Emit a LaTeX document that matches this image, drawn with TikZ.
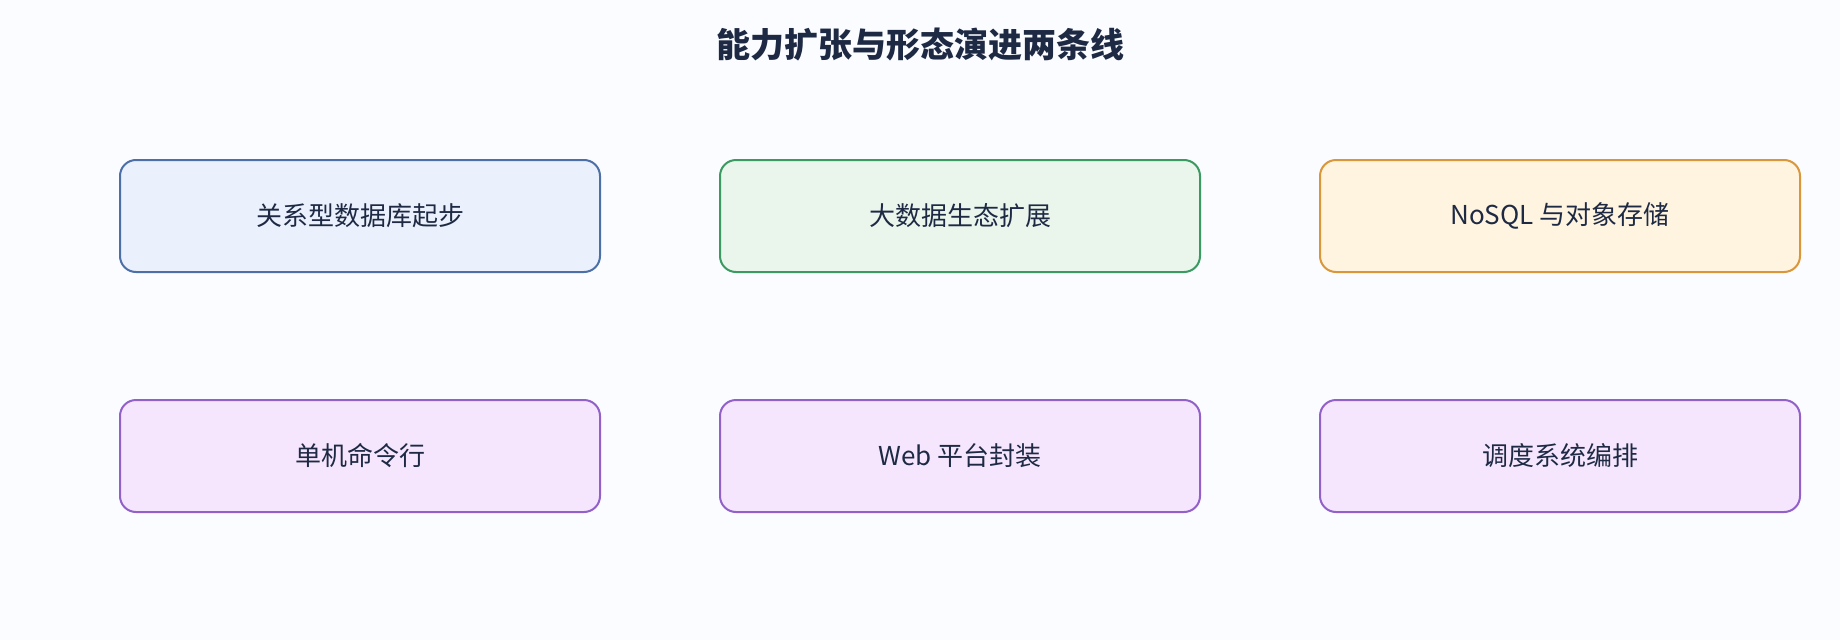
\documentclass[tikz,border=0pt]{standalone}
\usepackage{fontspec}
\setmainfont{Noto Sans CJK SC}
\usepackage{tikz}
\definecolor{bgc}{HTML}{FBFCFF}
\definecolor{ink}{HTML}{1E2A44}
\definecolor{relfill}{HTML}{EAF1FC}
\definecolor{reldraw}{HTML}{4C6FA8}
\definecolor{bigfill}{HTML}{EAF6EC}
\definecolor{bigdraw}{HTML}{3A9A62}
\definecolor{nosfill}{HTML}{FFF4E0}
\definecolor{nosdraw}{HTML}{D9973A}
\definecolor{formfill}{HTML}{F6E6FD}
\definecolor{formdraw}{HTML}{9160C8}

\begin{document}
\begin{tikzpicture}[x=1pt,y=-1pt,
  stage/.style={rounded corners=16pt,line width=2pt,minimum width=480pt,minimum height=112pt,inner sep=0pt,text=ink,font=\fontsize{26}{30}\selectfont},
  caprel/.style={stage,draw=reldraw,fill=relfill},
  capbig/.style={stage,draw=bigdraw,fill=bigfill},
  capnos/.style={stage,draw=nosdraw,fill=nosfill},
  form/.style={stage,draw=formdraw,fill=formfill}]
\fill[bgc] (0,0) rectangle (1840,640);
\useasboundingbox (0,0) rectangle (1840,640);
\node[text=ink,font=\fontsize{34}{40}\selectfont\bfseries] (T) at (920,45) {能力扩张与形态演进两条线};

% capability line
\node[caprel] (C1) at (360,216) {关系型数据库起步};
\node[capbig] (C2) at (960,216) {大数据生态扩展};
\node[capnos] (C3) at (1560,216) {NoSQL 与对象存储};

% form line
\node[form] (F1) at (360,456) {单机命令行};
\node[form] (F2) at (960,456) {Web 平台封装};
\node[form] (F3) at (1560,456) {调度系统编排};
\end{tikzpicture}
\end{document}
